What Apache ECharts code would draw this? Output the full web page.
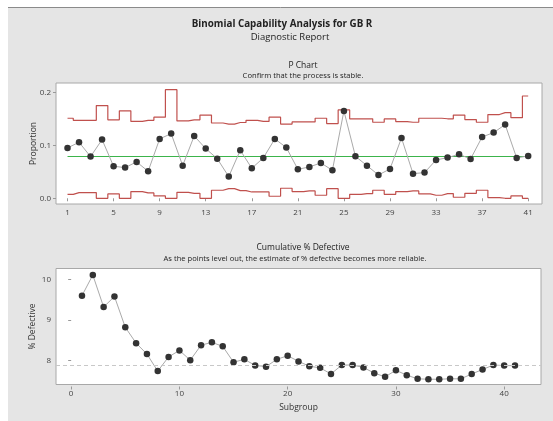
<!DOCTYPE html>
<html>
<head>
<meta charset="utf-8">
<script src="https://cdn.jsdelivr.net/npm/echarts@6/dist/echarts.min.js"></script>
<style>html,body{margin:0;padding:0;background:#fff;}#c{width:553px;height:421px;}</style>
</head>
<body>
<div id="c"></div>
<script>
const subgroups = [1,2,3,4,5,6,7,8,9,10,11,12,13,14,15,16,17,18,19,20,21,22,23,24,25,26,27,28,29,30,31,32,33,34,35,36,37,38,39,40,41];
const proportion = [0.095,0.1057,0.0786,0.1107,0.0604,0.0579,0.0686,0.0509,0.112,0.122,0.0616,0.1176,0.0937,0.0748,0.0409,0.0906,0.0566,0.0761,0.112,0.0958,0.0547,0.0591,0.0667,0.0528,0.1648,0.0792,0.0616,0.044,0.0553,0.1138,0.0465,0.0484,0.0723,0.0767,0.083,0.0742,0.1157,0.1239,0.139,0.0761,0.0799];
const ucl = [0.151,0.147,0.147,0.175,0.148,0.165,0.145,0.147,0.153,0.205,0.146,0.148,0.157,0.142,0.140,0.143,0.147,0.145,0.153,0.140,0.144,0.144,0.151,0.141,0.1667,0.150,0.150,0.1434,0.1497,0.1447,0.1434,0.151,0.151,0.150,0.157,0.1484,0.1434,0.158,0.1616,0.152,0.193];
const lcl = [0.0075,0.0107,0.0107,0,0.0082,0,0.0126,0.0101,0.0044,0,0.0113,0.0094,0,0.0151,0.0182,0.0145,0.0119,0.0119,0.0038,0.0189,0.0126,0.0138,0.0057,0.0182,0,0.0075,0.0088,0.0151,0.0075,0.0126,0.0138,0.0082,0.0057,0.0088,0.0019,0.0094,0.0151,0.0013,0,0.0044,0];
const centerLine = 0.0788;
const cumDefective = [9.60,10.11,9.32,9.58,8.82,8.43,8.16,7.74,8.09,8.25,8.01,8.38,8.45,8.35,7.96,8.03,7.88,7.85,8.03,8.12,7.98,7.86,7.82,7.67,7.89,7.89,7.83,7.69,7.60,7.76,7.64,7.55,7.54,7.54,7.55,7.55,7.67,7.78,7.89,7.876,7.876];
const cumReference = 7.876;
const pTicksX = [1,5,9,13,17,21,25,29,33,37,41];
const pTicksY = [0,0.1,0.2];
const cumTicksX = [0,10,20,30,40];
const cumTicksY = [8,9,10];

const FONT = '"Open Sans", "Noto Sans", sans-serif';
const labelColor = '#444';
const pair = (xs, ys) => xs.map((x, i) => [x, ys[i]]);

const chart = echarts.init(document.getElementById('c'), null, {renderer: 'canvas'});

const axisCommonX = (min, max, ticks, fmt) => ({
  type: 'value', min: min, max: max, offset: 2,
  axisLine: {show: false},
  splitLine: {show: false},
  axisTick: {show: true, length: 3, lineStyle: {color: '#999'}, customValues: ticks},
  axisLabel: {customValues: ticks, color: labelColor, fontSize: 8, fontFamily: FONT, margin: 3, formatter: fmt}
});
const axisCommonY = (min, max, ticks, fmt, name, gap) => ({
  type: 'value', min: min, max: max, offset: 2,
  name: name, nameLocation: 'middle', nameGap: gap, nameMoveOverlap: false,
  nameTextStyle: {color: '#333', fontSize: 8.5, fontFamily: FONT},
  axisLine: {show: false},
  splitLine: {show: false},
  axisTick: {show: true, length: 3, lineStyle: {color: '#999'}, customValues: ticks},
  axisLabel: {customValues: ticks, color: labelColor, fontSize: 8, fontFamily: FONT, margin: 3, formatter: fmt}
});

const option = {
  animation: false,
  graphic: [
    {type: 'rect', shape: {x: 8, y: 7, width: 545, height: 414}, style: {fill: '#e5e5e5'}, z: -10, silent: true},
    {type: 'line', shape: {x1: 8, y1: 7.5, x2: 553, y2: 7.5}, style: {stroke: '#8a8a8a', lineWidth: 1}, z: -9, silent: true}
  ],
  title: [
    {text: 'Binomial Capability Analysis for GB R', left: 277, top: 14, textAlign: 'center',
     textStyle: {fontSize: 9.8, fontWeight: 'bold', color: '#222', fontFamily: FONT}},
    {text: 'Diagnostic Report', left: 285, top: 27, textAlign: 'center',
     textStyle: {fontSize: 9.5, fontWeight: 'normal', color: '#222', fontFamily: FONT}},
    {text: 'P Chart', left: 298, top: 56, textAlign: 'center',
     textStyle: {fontSize: 8.5, fontWeight: 'normal', color: '#222', fontFamily: FONT}},
    {text: 'Confirm that the process is stable.', left: 298, top: 67, textAlign: 'center',
     textStyle: {fontSize: 7.6, fontWeight: 'normal', color: '#222', fontFamily: FONT}},
    {text: 'Cumulative % Defective', left: 298, top: 238, textAlign: 'center',
     textStyle: {fontSize: 8.5, fontWeight: 'normal', color: '#222', fontFamily: FONT}},
    {text: 'As the points level out, the estimate of % defective becomes more reliable.', left: 290, top: 250, textAlign: 'center',
     textStyle: {fontSize: 7.6, fontWeight: 'normal', color: '#222', fontFamily: FONT}}
  ],
  grid: [
    {left: 56, top: 83, width: 486, height: 121, show: true, backgroundColor: '#fff', borderColor: '#a8a8a8', borderWidth: 1},
    {left: 56, top: 268.5, width: 485, height: 116, show: true, backgroundColor: '#fff', borderColor: '#a8a8a8', borderWidth: 1}
  ],
  xAxis: [
    Object.assign(axisCommonX(0, 42.2, pTicksX, v => String(v)), {gridIndex: 0}),
    Object.assign(axisCommonX(-1.4, 43.4, cumTicksX, v => String(v)), {gridIndex: 1,
      name: 'Subgroup', nameLocation: 'middle', nameGap: 17, nameMoveOverlap: false,
      nameTextStyle: {color: '#333', fontSize: 8.5, fontFamily: FONT}})
  ],
  yAxis: [
    Object.assign(axisCommonY(-0.0108, 0.2175, pTicksY, v => v.toFixed(1), 'Proportion', 16), {gridIndex: 0}),
    Object.assign(axisCommonY(7.41, 10.27, cumTicksY, v => String(Math.round(v)), '% Defective', 17), {gridIndex: 1})
  ],
  series: [
    {type: 'line', xAxisIndex: 0, yAxisIndex: 0, step: 'middle', data: pair(subgroups, ucl), symbol: 'none',
     lineStyle: {color: '#c0504d', width: 1.2}, z: 2, silent: true},
    {type: 'line', xAxisIndex: 0, yAxisIndex: 0, step: 'middle', data: pair(subgroups, lcl), symbol: 'none',
     lineStyle: {color: '#c0504d', width: 1.2}, z: 2, silent: true},
    {type: 'line', xAxisIndex: 0, yAxisIndex: 0,
     data: [[subgroups[0], centerLine], [subgroups[subgroups.length - 1], centerLine]], symbol: 'none',
     lineStyle: {color: '#3cb44b', width: 1.2}, z: 3, silent: true},
    {type: 'line', xAxisIndex: 0, yAxisIndex: 0, data: pair(subgroups, proportion),
     symbol: 'circle', symbolSize: 6.5, itemStyle: {color: '#333'},
     lineStyle: {color: '#aaa', width: 1}, z: 4, silent: true},
    {type: 'line', xAxisIndex: 1, yAxisIndex: 1, data: pair(subgroups, cumDefective),
     symbol: 'circle', symbolSize: 6.5, itemStyle: {color: '#333'},
     lineStyle: {color: '#aaa', width: 1}, z: 4, silent: true,
     markLine: {silent: true, symbol: 'none', label: {show: false},
       lineStyle: {color: '#c8c8c8', type: [4, 3], width: 1.2},
       data: [{yAxis: cumReference}]}}
  ]
};
chart.setOption(option);
</script>
</body>
</html>
